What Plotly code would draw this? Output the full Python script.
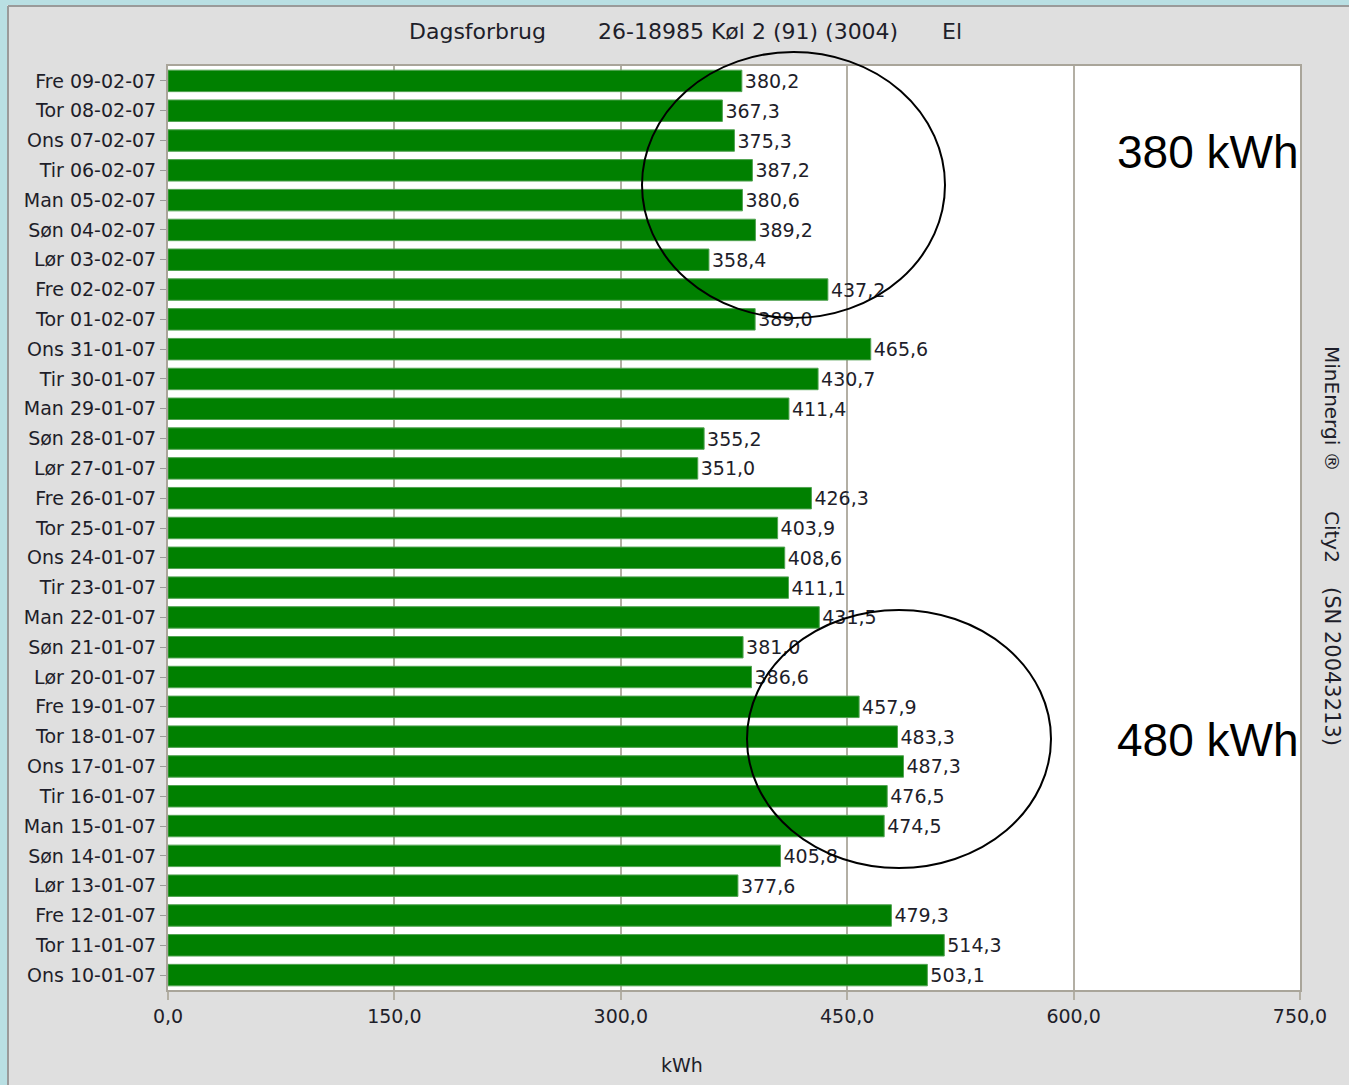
import plotly.graph_objects as go

days = ["Fre 09-02-07", "Tor 08-02-07", "Ons 07-02-07", "Tir 06-02-07", "Man 05-02-07",
        "Søn 04-02-07", "Lør 03-02-07", "Fre 02-02-07", "Tor 01-02-07", "Ons 31-01-07",
        "Tir 30-01-07", "Man 29-01-07", "Søn 28-01-07", "Lør 27-01-07", "Fre 26-01-07",
        "Tor 25-01-07", "Ons 24-01-07", "Tir 23-01-07", "Man 22-01-07", "Søn 21-01-07",
        "Lør 20-01-07", "Fre 19-01-07", "Tor 18-01-07", "Ons 17-01-07", "Tir 16-01-07",
        "Man 15-01-07", "Søn 14-01-07", "Lør 13-01-07", "Fre 12-01-07", "Tor 11-01-07",
        "Ons 10-01-07"]
kwh = [380.2, 367.3, 375.3, 387.2, 380.6, 389.2, 358.4, 437.2, 389.0, 465.6,
       430.7, 411.4, 355.2, 351.0, 426.3, 403.9, 408.6, 411.1, 431.5, 381.0,
       386.6, 457.9, 483.3, 487.3, 476.5, 474.5, 405.8, 377.6, 479.3, 514.3,
       503.1]
x_ticks = [0, 150, 300, 450, 600, 750]
x_tick_labels = ["0,0", "150,0", "300,0", "450,0", "600,0", "750,0"]

labels = [f"{v:.1f}".replace(".", ",") for v in kwh]

FONT = "DejaVu Sans"
TXT = "#1e1e2a"
GRID = "#b3afa4"

fig = go.Figure(go.Bar(
    y=days, x=kwh, orientation="h",
    marker=dict(color="#008000", line=dict(color="#52a352", width=1)),
    text=labels, textposition="outside", cliponaxis=False, constraintext="none",
    textfont=dict(family=FONT, size=19, color=TXT),
    hoverinfo="x+y",
))

L, R, T, B = 168, 49, 66, 95
W, H = 1349, 1085
pw, ph = W - L - R, H - T - B

def px(x):
    return (x - L) / pw

def py(y):
    return (H - B - y) / ph

shapes = [
    # light blue outer frame (top & left)
    dict(type="rect", xref="paper", yref="paper", x0=-0.3, x1=px(7), y0=-0.3, y1=1.3,
         fillcolor="#b9dfe3", line=dict(width=0), layer="below"),
    dict(type="rect", xref="paper", yref="paper", x0=-0.3, x1=1.3, y0=py(5), y1=1.3,
         fillcolor="#b9dfe3", line=dict(width=0), layer="below"),
    dict(type="line", xref="paper", yref="paper", x0=px(8), x1=px(8), y0=-0.3, y1=py(6),
         line=dict(color="#9a9a9a", width=2)),
    dict(type="line", xref="paper", yref="paper", x0=px(8), x1=1.3, y0=py(6), y1=py(6),
         line=dict(color="#9a9a9a", width=2)),
    # hand-drawn ellipses
    dict(type="circle", xref="paper", yref="paper", x0=px(642), x1=px(945), y0=py(318), y1=py(52),
         line=dict(color="black", width=2), fillcolor="rgba(0,0,0,0)"),
    dict(type="circle", xref="paper", yref="paper", x0=px(747), x1=px(1051), y0=py(868), y1=py(610),
         line=dict(color="black", width=2), fillcolor="rgba(0,0,0,0)"),
]

side_font = dict(family=FONT, size=20, color=TXT)
annotations = [
    dict(text="Dagsforbrug", x=px(407), y=py(31), xanchor="left", yanchor="middle"),
    dict(text="26-18985 Køl 2 (91) (3004)", x=px(596), y=py(31), xanchor="left", yanchor="middle"),
    dict(text="El", x=px(940), y=py(31), xanchor="left", yanchor="middle"),
    dict(text="kWh", x=px(682), y=py(1065), xanchor="center", yanchor="middle",
         font=dict(family=FONT, size=19, color=TXT)),
    dict(text="MinEnergi ®", x=px(1332), y=py(409), xanchor="center", yanchor="middle",
         textangle=90, font=side_font),
    dict(text="City2", x=px(1332), y=py(537), xanchor="center", yanchor="middle",
         textangle=90, font=side_font),
    dict(text="(SN 20043213)", x=px(1332), y=py(666), xanchor="center", yanchor="middle",
         textangle=90, font=dict(family=FONT, size=21, color=TXT)),
    dict(text="380 kWh", x=px(1208), y=py(152), xanchor="center", yanchor="middle",
         font=dict(family="Liberation Sans", size=46, color="black")),
    dict(text="480 kWh", x=px(1208), y=py(740), xanchor="center", yanchor="middle",
         font=dict(family="Liberation Sans", size=46, color="black")),
]
for a in annotations:
    a.setdefault("font", dict(family=FONT, size=22, color=TXT))
    a.update(xref="paper", yref="paper", showarrow=False)

fig.update_layout(
    width=W, height=H,
    margin=dict(l=L, r=R, t=T, b=B, pad=0),
    paper_bgcolor="#dfdfdf", plot_bgcolor="white",
    bargap=0.28, showlegend=False,
    font=dict(family=FONT, size=19, color=TXT),
    shapes=shapes, annotations=annotations,
    xaxis=dict(range=[0, 750], tickvals=x_ticks, ticktext=x_tick_labels,
               showgrid=True, gridcolor=GRID, gridwidth=2,
               showline=True, linecolor="#a9a59a", linewidth=2, mirror=True,
               ticks="outside", ticklen=8, tickwidth=2, tickcolor=GRID,
               zeroline=False, tickfont=dict(family=FONT, size=19, color=TXT)),
    yaxis=dict(categoryorder="array", categoryarray=days, autorange="reversed",
               showline=True, linecolor="#a9a59a", linewidth=2, mirror=True,
               ticks="outside", ticklen=6, tickwidth=1, tickcolor="#9a9a9a",
               showgrid=False, tickfont=dict(family=FONT, size=19, color=TXT)),
)

fig.write_html("out.html", config={"displayModeBar": False},
               post_script="document.body.style.margin='0';document.body.style.padding='0';document.body.style.overflow='hidden';")
